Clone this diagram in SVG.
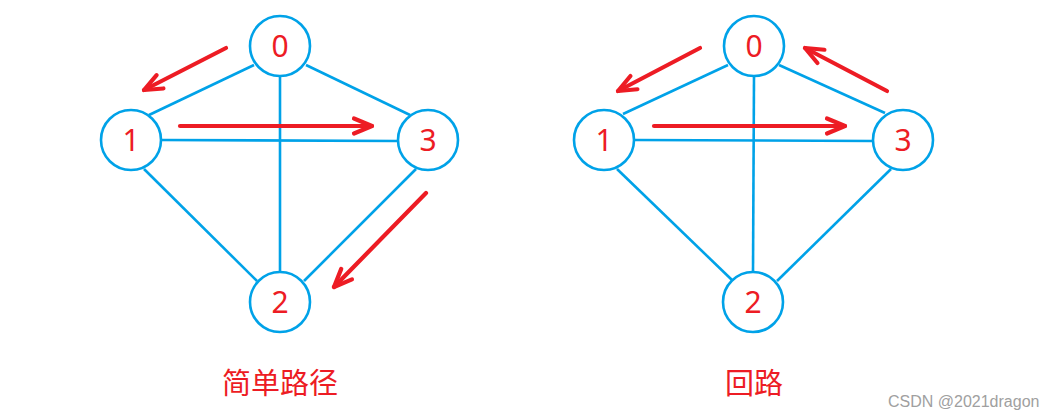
<svg xmlns="http://www.w3.org/2000/svg" width="1050" height="419" viewBox="0 0 1050 419">
<style>
.edge{stroke:#00a2e8;stroke-width:2.6;fill:none}
.node circle{fill:#fff;stroke:#00a2e8;stroke-width:2.6}
.node text{font-family:"Noto Sans","Liberation Sans",sans-serif;font-size:30px;fill:#ed1c24;text-anchor:middle}
.arrow{stroke:#ed1c24;stroke-width:4.2;fill:none;stroke-linecap:round;marker-end:url(#head)}
.label{font-family:"Noto Sans CJK SC","Noto Sans",sans-serif;font-size:29px;fill:#ed1c24;text-anchor:middle}
.wm{font-family:"Liberation Sans",Arial,sans-serif;font-size:16px;fill:#a0a0a0}
</style>
<defs>
<marker id="head" viewBox="-22 -11 25 22" markerWidth="25" markerHeight="22" refX="0" refY="0" orient="auto" markerUnits="userSpaceOnUse">
<path d="M-18,-7.5 L0,0 L-18,7.5" stroke="#ed1c24" stroke-width="4.2" fill="none" stroke-linecap="round" stroke-linejoin="round"/>
</marker>
</defs>
<rect width="1050" height="419" fill="#fff"/>
<g id="connectors">
<line class="edge" x1="254" y1="65" x2="149" y2="115"/>
<line class="edge" x1="306" y1="65" x2="410" y2="115"/>
<line class="edge" x1="280" y1="76" x2="280" y2="272"/>
<line class="edge" x1="161" y1="140" x2="398" y2="141"/>
<line class="edge" x1="144" y1="169" x2="257" y2="281"/>
<line class="edge" x1="416" y1="169" x2="304" y2="281"/>
<line class="edge" x1="728" y1="65" x2="623" y2="114"/>
<line class="edge" x1="779" y1="65" x2="885" y2="113"/>
<line class="edge" x1="754" y1="76" x2="753" y2="272"/>
<line class="edge" x1="635" y1="140" x2="873" y2="141"/>
<line class="edge" x1="617" y1="169" x2="732" y2="280"/>
<line class="edge" x1="891" y1="169" x2="777" y2="281"/>
<line class="arrow" x1="226" y1="48" x2="144" y2="90"/>
<line class="arrow" x1="180" y1="126" x2="372" y2="126"/>
<line class="arrow" x1="426" y1="193" x2="334" y2="287"/>
<line class="arrow" x1="700" y1="48" x2="618" y2="91"/>
<line class="arrow" x1="654" y1="126" x2="845" y2="126"/>
<line class="arrow" x1="887" y1="91" x2="805" y2="48"/>
</g>
<g id="L0" class="node"><circle cx="280" cy="46" r="30"/><text x="280" y="57">0</text></g>
<g id="L1" class="node"><circle cx="131" cy="140" r="30"/><text x="131" y="151">1</text></g>
<g id="L3" class="node"><circle cx="428" cy="140" r="30"/><text x="428" y="151">3</text></g>
<g id="L2" class="node"><circle cx="280" cy="302" r="30"/><text x="280" y="313">2</text></g>
<g id="R0" class="node"><circle cx="754" cy="46" r="30"/><text x="754" y="57">0</text></g>
<g id="R1" class="node"><circle cx="604" cy="140" r="30"/><text x="604" y="151">1</text></g>
<g id="R3" class="node"><circle cx="903" cy="140" r="30"/><text x="903" y="151">3</text></g>
<g id="R2" class="node"><circle cx="753" cy="302" r="30"/><text x="753" y="313">2</text></g>
<text class="label" x="280" y="394">简单路径</text>
<text class="label" x="754" y="394">回路</text>
<text class="wm" x="888" y="407">CSDN @2021dragon</text>
</svg>
